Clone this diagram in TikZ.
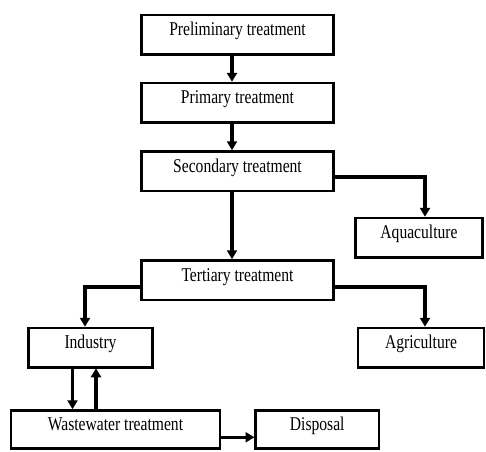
\documentclass[tikz,border=0pt]{standalone}
\usepackage{fontspec}
\setmainfont{Liberation Serif}[FakeStretch=0.8]
\usetikzlibrary{arrows.meta, positioning}

\begin{document}
\begin{tikzpicture}[
    >={Triangle[length=9pt, width=10pt]},
    stagebox/.style={draw, line width=2.5pt, outer sep=0pt, inner sep=0pt,
                     text height=21pt, text depth=18.5pt,
                     font=\fontsize{19.5}{22}\selectfont},
    endbox/.style={stagebox, text height=20pt, text depth=18pt},
    flow/.style={draw, ->, line width=3.5pt, shorten >=1pt}
  ]
  \useasboundingbox (0,0) rectangle (486pt,-451pt);

  \node[stagebox, minimum width=192pt] (prelim) at (237.5pt,-34.5pt) {Preliminary treatment};
  \node[stagebox, minimum width=192pt, below=28.5pt of prelim] (primary) {Primary treatment};
  \node[stagebox, minimum width=192pt, below=29pt of primary] (secondary) {Secondary treatment};
  \node[stagebox, minimum width=192pt, below=69.5pt of secondary] (tertiary) {Tertiary treatment};
  \node[stagebox, minimum width=127pt, below=27pt of secondary, xshift=181.5pt] (aqua) {Aquaculture};
  \node[stagebox, minimum width=124pt, below=28pt of tertiary, xshift=-147pt] (industry) {Industry};
  \node[stagebox, minimum width=126pt, below=28pt of tertiary, xshift=183.5pt] (agri) {Agriculture};
  \node[endbox, minimum width=209pt, below=43pt of industry, xshift=25pt] (waste) {Wastewater treatment};
  \node[endbox, minimum width=123.5pt, right=35.5pt of waste] (disposal) {Disposal};

  \draw[flow] ([xshift=-5.5pt]prelim.south) -- ([xshift=-5.5pt]primary.north);
  \draw[flow] ([xshift=-5.5pt]primary.south) -- ([xshift=-5.5pt]secondary.north);
  \draw[flow] ([xshift=-5.5pt]secondary.south) -- ([xshift=-5.5pt]tertiary.north);
  \draw[flow] ([yshift=-6pt]secondary.east) -| ([xshift=6pt]aqua.north);
  \draw[flow] ([yshift=-7pt]tertiary.west) -| ([xshift=-5.5pt]industry.north);
  \draw[flow] ([yshift=-7pt]tertiary.east) -| ([xshift=4pt]agri.north);
  \draw[flow] ([xshift=-18pt]industry.south) -- ([xshift=-18pt]industry.south |- waste.north);
  \draw[flow] ([xshift=5.5pt]industry.south |- waste.north) -- ([xshift=5.5pt]industry.south);
  \draw[flow] ([yshift=-8pt]waste.east) -- ([yshift=-8pt]waste.east -| disposal.west);
\end{tikzpicture}
\end{document}
